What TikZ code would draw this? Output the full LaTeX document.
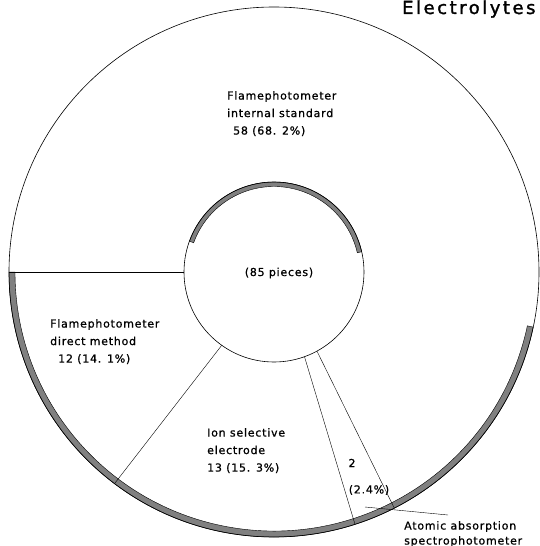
\documentclass[tikz,border=0pt]{standalone}
\usepackage{fontspec}
\setmainfont{DejaVu Sans}[LetterSpace=7, FakeBold=0.8]
\newfontfamily\titlefont{DejaVu Sans}[LetterSpace=14, FakeBold=1.6]
\begin{document}
\begin{tikzpicture}[x=1pt, y=1pt,
  lbl/.style={anchor=north west, inner sep=0pt, align=left, font=\fontsize{11}{17.5}\selectfont},
  shade band/.style={fill=black!50, draw=black, line width=0.4pt}]
\useasboundingbox (-274,272) rectangle (266,-274);
% ring
\draw[shade band] (180:265) arc (180:348:265) -- (348:259) arc (348:180:259) -- cycle;
\draw[shade band] (13:90) arc (13:160:90) -- (160:85.5) arc (160:13:85.5) -- cycle;
\draw[line width=0.6pt] (0,0) circle [radius=265];
\draw[line width=0.6pt] (0,0) circle [radius=90];
% sector borders
\draw (180:90) -- (180:265);
\draw (234.5:90) -- (233:265);
\draw (289.8:90) -- (287.8:265);
\draw (298.5:90) -- (297:265);
% labels
\node[anchor=base west, inner sep=0pt, font=\fontsize{18}{18}\titlefont] (title) at (128,258) {Electrolytes};
\node[lbl] (std) at (-47,181) {Flamephotometer\\internal standard\\\hspace*{6pt}58 (68. 2\%)};
\node[lbl] (direct) at (-224,-47) {Flamephotometer\\direct method\\\hspace*{8pt}12 (14. 1\%)};
\node[lbl] (ise) at (-67,-156) {Ion selective\\electrode\\13 (15. 3\%)};
\node[font=\fontsize{11}{12}\selectfont] (total) at (5,-1) {(85 pieces)};
\node[font=\fontsize{11}{12}\selectfont] (aasn) at (78,-191) {2};
\node[font=\fontsize{11}{12}\selectfont] (aasp) at (95,-218) {(2.4\%)};
\node[lbl, font=\fontsize{11}{15}\selectfont] (aas) at (130,-249) {Atomic absorption\\spectrophotometer};
% leader
\coordinate (lead) at (91,-235);
\coordinate (leadend) at (174,-243);
\draw (lead) -- (leadend);
\end{tikzpicture}
\end{document}
